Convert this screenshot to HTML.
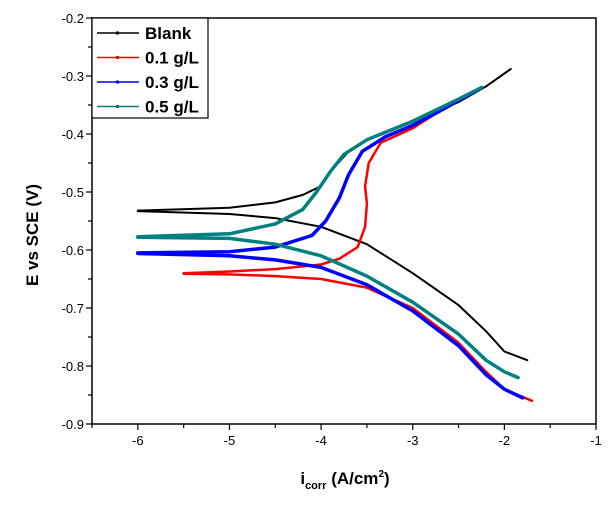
<!DOCTYPE html>
<html><head><meta charset="utf-8"><style>
body{margin:0;background:#fff;}
svg{display:block;font-family:"Liberation Sans",Arial,sans-serif;}
</style></head><body>
<svg id="chart" width="609" height="507" xmlns="http://www.w3.org/2000/svg"></svg>
<script>
const xTicks=[-6,-5,-4,-3,-2,-1];
const yTicks=[-0.2,-0.3,-0.4,-0.5,-0.6,-0.7,-0.8,-0.9];
const seriesNames=["Blank","0.1 g/L","0.3 g/L","0.5 g/L"];
const blankAnodicX=[-6,-5,-4.5,-4.2,-4.0,-3.9,-3.7,-3.5,-3,-2.5,-2.2,-1.93];
const blankAnodicY=[-0.532,-0.527,-0.518,-0.505,-0.49,-0.465,-0.43,-0.41,-0.378,-0.345,-0.318,-0.288];
const blankCathodicX=[-6,-5,-4.5,-4,-3.5,-3,-2.5,-2.2,-2,-1.75];
const blankCathodicY=[-0.533,-0.538,-0.545,-0.56,-0.59,-0.64,-0.695,-0.74,-0.775,-0.79];
const c01AnodicX=[-5.5,-5,-4.5,-4,-3.8,-3.6,-3.52,-3.5,-3.52,-3.48,-3.35,-3.0,-2.7,-2.5,-2.25];
const c01AnodicY=[-0.64,-0.637,-0.633,-0.625,-0.615,-0.595,-0.56,-0.52,-0.49,-0.45,-0.415,-0.39,-0.36,-0.34,-0.32];
const c01CathodicX=[-5.5,-5,-4.5,-4,-3.5,-3,-2.5,-2.2,-2,-1.7];
const c01CathodicY=[-0.641,-0.642,-0.645,-0.65,-0.665,-0.7,-0.76,-0.81,-0.84,-0.86];
const c03AnodicX=[-6,-5,-4.5,-4.1,-3.95,-3.8,-3.7,-3.55,-3.3,-3,-2.7,-2.25];
const c03AnodicY=[-0.605,-0.603,-0.595,-0.575,-0.55,-0.51,-0.47,-0.43,-0.405,-0.385,-0.36,-0.32];
const c03CathodicX=[-6,-5,-4.5,-4,-3.5,-3,-2.5,-2.2,-2,-1.8];
const c03CathodicY=[-0.606,-0.61,-0.617,-0.63,-0.66,-0.705,-0.765,-0.815,-0.84,-0.855];
const c05AnodicX=[-6,-5,-4.5,-4.2,-4.05,-3.9,-3.75,-3.5,-3,-2.5,-2.25];
const c05AnodicY=[-0.577,-0.572,-0.555,-0.53,-0.5,-0.465,-0.435,-0.41,-0.378,-0.34,-0.32];
const c05CathodicX=[-6,-5,-4.5,-4,-3.5,-3,-2.5,-2.2,-2,-1.85];
const c05CathodicY=[-0.578,-0.58,-0.59,-0.61,-0.645,-0.69,-0.745,-0.79,-0.81,-0.82];

const L=92,R=596,T=18,B=424;
const X=v=>L+(v-(-6.5))/(5.5)*(R-L);
const Y=v=>T+(-0.2-v)/(0.7)*(B-T);
const svg=document.getElementById('chart');
const NS="http://www.w3.org/2000/svg";
function mk(tag,attrs,parent){const e=document.createElementNS(NS,tag);for(const k in attrs)e.setAttribute(k,attrs[k]);(parent||svg).appendChild(e);return e;}

const colors=["#000000","#ff0000","#0000ff","#008080"];
const data=[[blankAnodicX,blankAnodicY,blankCathodicX,blankCathodicY],[c01AnodicX,c01AnodicY,c01CathodicX,c01CathodicY],[c03AnodicX,c03AnodicY,c03CathodicX,c03CathodicY],[c05AnodicX,c05AnodicY,c05CathodicX,c05CathodicY]];
const widths=[2,2.5,3.5,3.5];
data.forEach((d,i)=>{
  const g=mk('g',{});
  
  
  for(let b=0;b<2;b++){
    const xs=d[b*2],ys=d[b*2+1];
    const pts=xs.map((x,j)=>X(x).toFixed(1)+','+Y(ys[j]).toFixed(1)).join(' ');
    const p=mk('polyline',{points:pts,fill:'none',stroke:colors[i],'stroke-width':widths[i],'stroke-linejoin':'round','stroke-linecap':'round'},g);
    
    
  }
});

// axes frame
const frame=mk('rect',{x:L,y:T,width:R-L,height:B-T,fill:'none',stroke:'#000','stroke-width':1.5});


// x ticks
for(let v=-6.5;v<=-1;v+=0.5){
  const major=Math.abs(v-Math.round(v))<0.01;
  mk('line',{x1:X(v),x2:X(v),y1:B,y2:B+(major?6:4),stroke:'#000','stroke-width':1.2});
}
xTicks.forEach(v=>{
  const t=mk('text',{x:X(v),y:B+21,'text-anchor':'middle','font-size':13},null);
  t.textContent=v;
  
  
});
for(let k=0;k<=14;k++){
  const v=-0.2-k*0.05;
  const major=k%2==0;
  mk('line',{x1:L,x2:L-(major?6:4),y1:Y(v),y2:Y(v),stroke:'#000','stroke-width':1.2});
}
yTicks.forEach(v=>{
  const t=mk('text',{x:L-8,y:Y(v)+5,'text-anchor':'end','font-size':13});
  t.textContent=v.toFixed(1);
  
  
});
// titles
const yt=mk('text',{x:38,y:235,'text-anchor':'middle','font-size':17,'font-weight':'bold',transform:'rotate(-90 38 235)'});
yt.textContent='E vs SCE (V)';


const xt=mk('text',{x:345,y:484,'text-anchor':'middle','font-size':17,'font-weight':'bold'});
xt.innerHTML='i<tspan font-size="11" dy="5">corr</tspan><tspan dy="-5"> (A/cm</tspan><tspan font-size="10" dy="-7">2</tspan><tspan dy="7">)</tspan>';


// legend
const lg=mk('g',{});


mk('rect',{x:L,y:T,width:116,height:100,fill:'#fff',stroke:'#000','stroke-width':1.2},lg);
seriesNames.forEach((n,i)=>{
  const yy=33+i*24.5;
  const e=mk('g',{},lg);
  
  
  mk('line',{x1:97,x2:139,y1:yy,y2:yy,stroke:colors[i],'stroke-width':1.5},e);
  mk('rect',{x:116,y:yy-1.5,width:3,height:3,fill:colors[i]},e);
  const t=mk('text',{x:145,y:yy+6,'font-size':17,'font-weight':'bold'},e);
  t.textContent=n;
});
</script>
</body></html>
